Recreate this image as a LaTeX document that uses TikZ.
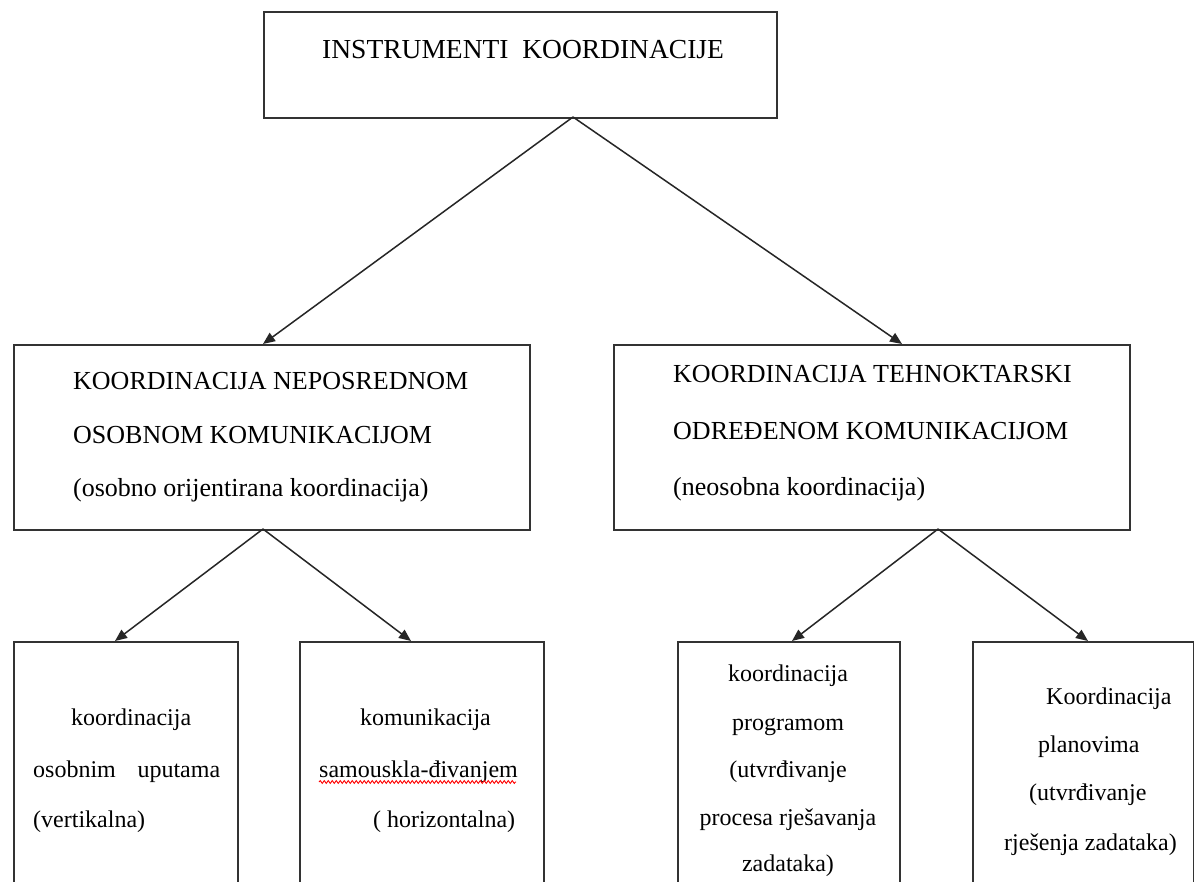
\documentclass[tikz,border=0pt]{standalone}
\usepackage{fontspec}
\setmainfont{Liberation Serif}
\usetikzlibrary{arrows.meta,decorations.pathmorphing}
\tikzset{
  box/.style={draw=black!80, line width=1.8pt, rectangle, inner sep=0pt, anchor=north west},
  conn/.style={draw=black!85, line width=1.5pt, -{Triangle[length=12pt,width=10pt]}},
  topfont/.style={font=\fontsize{27.5}{27.5}\selectfont, inner sep=0pt},
  midfont/.style={font=\fontsize{26}{26}\selectfont, inner sep=0pt},
  botfont/.style={font=\fontsize{24}{24}\selectfont, inner sep=0pt},
}
\begin{document}
\begin{tikzpicture}[x=1pt,y=-1pt]
\useasboundingbox (0,0) rectangle (1194,882);
\clip (0,0) rectangle (1194,882);
\fill[white] (0,0) rectangle (1194,882);
% boxes
\node[box, minimum width=513pt, minimum height=106pt] (top) at (263,11) {};
\node[box, minimum width=516pt, minimum height=185pt] (ml) at (13,344) {};
\node[box, minimum width=516pt, minimum height=185pt] (mr) at (613,344) {};
\node[box, minimum width=224pt, minimum height=270pt] (b1) at (13,641) {};
\node[box, minimum width=244pt, minimum height=270pt] (b2) at (299,641) {};
\node[box, minimum width=222pt, minimum height=270pt] (b3) at (677,641) {};
\node[box, minimum width=221pt, minimum height=270pt] (b4) at (972,641) {};
% texts
\node[topfont, anchor=base west] (ttop) at (322,59) {INSTRUMENTI\ \ KOORDINACIJE};
\node[midfont, anchor=base west] (ml1) at (73,389) {KOORDINACIJA NEPOSREDNOM};
\node[midfont, anchor=base west] (ml2) at (73,443) {OSOBNOM KOMUNIKACIJOM};
\node[midfont, anchor=base west] (ml3) at (73,496) {(osobno orijentirana koordinacija)};
\node[midfont, anchor=base west] (mr1) at (673,383) {KOORDINACIJA TEHNOKTARSKI};
\node[midfont, anchor=base west] (mr2) at (673,439) {ODREĐENOM KOMUNIKACIJOM};
\node[midfont, anchor=base west] (mr3) at (673,495) {(neosobna koordinacija)};
% bottom 1
\node[botfont, anchor=base west] (b1a) at (71,725) {koordinacija};
\node[botfont, anchor=base west, text width=187pt] (b1b) at (33,777) {osobnim\hfill uputama};
\node[botfont, anchor=base west] (b1c) at (33,827) {(vertikalna)};
% bottom 2
\node[botfont, anchor=base west] (b2a) at (360,725) {komunikacija};
\node[botfont, anchor=base west] (b2b) at (319,777) {samouskla-đivanjem};
\draw[red, line width=0.9pt, decorate, decoration={snake, amplitude=1.4pt, segment length=4pt}]
  (b2b.base west) ++(0,5) -- ++(197,0);
\node[botfont, anchor=base west] (b2c) at (373,827) {( horizontalna)};
% bottom 3
\node[botfont, anchor=base] (b3a) at (788,681) {koordinacija};
\node[botfont, anchor=base] (b3b) at (788,730) {programom};
\node[botfont, anchor=base] (b3c) at (788,777) {(utvrđivanje};
\node[botfont, anchor=base] (b3d) at (788,825) {procesa rješavanja};
\node[botfont, anchor=base] (b3e) at (788,871) {zadataka)};
% bottom 4
\node[botfont, anchor=base west] (b4a) at (1046,704) {Koordinacija};
\node[botfont, anchor=base west] (b4b) at (1038,752) {planovima};
\node[botfont, anchor=base west] (b4c) at (1029,800) {(utvrđivanje};
\node[botfont, anchor=base west] (b4d) at (1004,850) {rješenja zadataka)};
% connection points
\coordinate (s0) at (573,117);
\coordinate (s1) at (263,529);
\coordinate (s2) at (938,529);
\coordinate (e1) at (263,344);
\coordinate (e2) at (902,344);
\coordinate (e3) at (115,641);
\coordinate (e4) at (411,641);
\coordinate (e5) at (792,641);
\coordinate (e6) at (1088,641);
% connectors
\draw[conn] (s0) -- (e1);
\draw[conn] (s0) -- (e2);
\draw[conn] (s1) -- (e3);
\draw[conn] (s1) -- (e4);
\draw[conn] (s2) -- (e5);
\draw[conn] (s2) -- (e6);
\end{tikzpicture}
\end{document}
